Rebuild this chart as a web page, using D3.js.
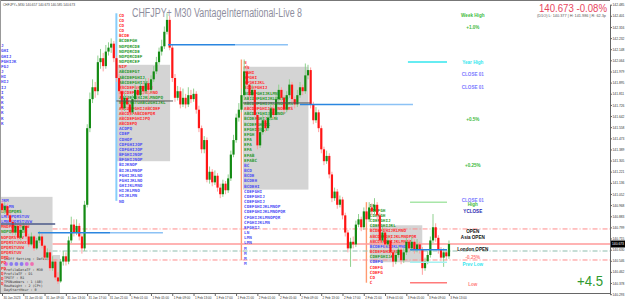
<!DOCTYPE html>
<html>
<head>
<meta charset="utf-8">
<script src="https://cdn.jsdelivr.net/npm/d3@7"></script>
<style>
body { margin: 0; background: #fff; }
svg { display: block; font-family: "Liberation Sans", Arial, sans-serif; }
.mono { font-family: "DejaVu Sans Mono", monospace; }
</style>
</head>
<body>
<div id="chart"></div>
<script>
// ---- data ----
var firstOpen = 140.98;
var closes = [
  140.93,140.96,140.89,140.84,140.76,140.81,140.72,140.78,140.81,140.73,
  140.67,140.73,140.64,140.70,140.73,140.66,140.57,140.61,140.49,140.54,
  140.42,140.39,140.54,140.58,140.54,140.70,140.82,140.76,140.81,140.73,
  140.64,140.97,141.55,141.77,141.86,141.83,142.05,142.08,142.02,142.13,
  142.16,142.19,142.08,141.93,141.83,141.70,141.78,141.73,141.67,141.77,
  141.84,141.80,141.87,141.83,141.89,141.84,141.92,141.98,142.05,142.13,
  142.17,142.28,142.37,142.16,141.93,141.78,141.83,141.73,141.78,141.73,
  141.80,141.77,141.81,141.69,141.55,141.39,141.46,141.16,141.22,141.14,
  141.19,141.10,141.05,141.13,141.08,141.17,141.35,141.46,141.63,141.69,
  141.80,141.98,141.88,141.80,141.84,141.65,141.42,141.52,141.61,141.55,
  141.63,141.70,141.65,141.77,141.84,141.78,141.69,141.80,141.88,141.77,
  141.73,141.80,141.86,141.83,141.95,141.99,141.73,141.61,141.67,141.55,
  141.39,141.30,141.34,141.20,141.02,141.07,140.97,141.01,140.89,140.76,
  140.64,140.69,140.67,140.82,140.86,140.80,140.92,140.86,140.95,140.92,
  140.97,140.89,140.70,140.76,140.67,140.70,140.61,140.54,140.59,140.63,
  140.55,140.61,140.69,140.64,140.69,140.63,140.67,140.63,140.49,140.54,
  140.59,140.70,140.80,140.72,140.63,140.57,140.61,140.58,140.673
];
var highs = [
  141.00,140.99,140.98,140.91,140.86,140.83,140.83,140.80,140.84,140.82,
  140.75,140.76,140.74,140.72,140.77,140.75,140.67,140.64,140.63,140.58,
  140.56,140.46,140.56,140.62,140.61,140.73,140.88,140.86,140.86,140.83,
  140.75,141.00,141.58,141.82,141.92,141.90,142.10,142.15,142.12,142.18,
  142.20,142.23,142.21,142.10,141.96,141.86,141.82,141.80,141.76,141.80,
  141.88,141.87,141.90,141.90,141.93,141.93,141.95,142.02,142.09,142.16,
  142.22,142.32,142.42,142.40,142.18,141.96,141.87,141.86,141.85,141.81,
  141.86,141.84,141.85,141.83,141.72,141.57,141.49,141.48,141.26,141.24,
  141.23,141.21,141.13,141.16,141.15,141.20,141.38,141.50,141.66,141.74,
  141.85,142.07,142.03,141.90,141.88,141.86,141.67,141.56,141.65,141.64,
  141.67,141.74,141.73,141.80,141.88,141.86,141.80,141.83,141.92,141.90,
  141.79,141.84,141.90,141.88,142.04,142.03,142.01,141.75,141.71,141.69,
  141.57,141.41,141.38,141.36,141.22,141.10,141.09,141.04,141.03,140.91,
  140.78,140.72,140.73,140.85,140.90,140.88,140.95,140.94,140.99,140.98,
  141.02,140.99,140.91,140.80,140.78,140.74,140.72,140.63,140.62,140.66,
  140.65,140.64,140.72,140.71,140.73,140.71,140.71,140.69,140.65,140.57,
  140.62,140.73,140.90,140.83,140.74,140.65,140.64,140.63,140.70
];
var lows = [
  140.91,140.90,140.87,140.82,140.74,140.74,140.70,140.70,140.76,140.71,
  140.65,140.66,140.62,140.63,140.68,140.64,140.55,140.55,140.47,140.47,
  140.40,140.37,140.38,140.51,140.51,140.52,140.68,140.73,140.74,140.70,
  140.60,140.62,140.95,141.52,141.74,141.78,141.80,142.00,141.98,142.00,
  142.10,142.12,142.05,141.90,141.78,141.67,141.68,141.70,141.64,141.65,
  141.75,141.76,141.78,141.80,141.81,141.75,141.82,141.90,141.96,142.03,
  142.10,142.15,142.26,142.14,141.90,141.75,141.76,141.70,141.71,141.70,
  141.71,141.74,141.75,141.66,141.52,141.36,141.36,141.14,141.13,141.11,
  141.12,141.07,141.02,141.03,141.05,141.06,141.15,141.33,141.44,141.60,
  141.67,141.78,141.85,141.76,141.77,141.62,141.39,141.40,141.50,141.52,
  141.53,141.61,141.62,141.63,141.75,141.75,141.66,141.67,141.78,141.74,
  141.70,141.71,141.78,141.80,141.81,141.92,141.70,141.58,141.59,141.52,
  141.36,141.27,141.28,141.17,140.99,141.00,140.94,140.95,140.86,140.73,
  140.61,140.50,140.64,140.65,140.80,140.77,140.78,140.83,140.84,140.89,
  140.90,140.86,140.67,140.68,140.64,140.65,140.58,140.50,140.52,140.57,
  140.52,140.53,140.59,140.61,140.62,140.60,140.61,140.60,140.44,140.47,
  140.52,140.57,140.68,140.69,140.60,140.54,140.50,140.55,140.56
];

var timeLabels = ["30 Jan 2023","31 Jan 05:00","31 Jan 09:00","31 Jan 13:00","31 Jan 17:00",
  "31 Jan 21:00","1 Feb 01:00","1 Feb 05:00","1 Feb 09:00","1 Feb 13:00","1 Feb 17:00",
  "1 Feb 21:00","2 Feb 01:00","2 Feb 05:00","2 Feb 09:00","2 Feb 13:00","2 Feb 17:00",
  "2 Feb 21:00","3 Feb 01:00","3 Feb 05:00","3 Feb 09:00","3 Feb 13:00"];
var barsPerTimeLabel = 8;

var priceLabels = ["142.485","142.401","142.316","142.232","142.148","142.064","141.979",
  "141.895","141.811","141.726","141.642","141.558","141.473","141.389","141.305","141.221",
  "141.136","141.052","140.968","140.883","140.799","140.715","140.630","140.546","140.462",
  "140.378","140.293"];

// TPO profiles: top price, first bar, rows of letters (r/g/b = period group)
var rowStep = 0.03915;
var profileTops = [142.174, 142.407, 142.051, 140.968];
var profileBars = [-0.4, 44, 91, 138.3];
var profile0 = [["J","b"],["GHI","b"],["GHIJ","b"],["FGHIJK","b"],["FGJ","b"],["J","b"],["HI","b"],
  ["HIJ","b"],["IJ","b"],["I","b"],["K","b"],["K","b"],["K","b"],["K","b"],["K","b"],["K","b"],
  ["",""],["",""],["",""],["",""],["",""],["",""],["",""],["",""],["",""],["",""],["",""],["",""],
  ["",""],["",""],["JKM","b"],["JKLMN","b"],["LMNOPQRS","g"],["LMNOPQRSTUV","b"],
  ["LMNOPQRSTUVW","b"],["MNOPQRSTUVW","r"],["NOPQRSTUVW","g"],["NOPQRSTUV","r"],
  ["OPQRSTUVWX","r"],["OPQRSTUVW","r"],["OPQRSTUV","r"],["OPQ","r"],["PQ","r"],["PQ","r"],
  ["Q","r"],["Q","r"],["Q","r"]];
var profile1 = [["CD","r"],["CD","r"],["CD","r"],["CD","r"],["BCDE","r"],["BCDEFGH","g"],
  ["NOPQRCDE","g"],["NOPQRCDE","g"],["NOPQRCDEF","g"],["NOPQRCEF","g"],["NIP","r"],
  ["ABCDEFGT","g"],["ABCDEFGHIJ","g"],["ABCDEFGHIJKL","g"],["ABCDEFGHIJKLM","r"],
  ["ABCDEFGHIJKLMNO","r"],["ABCDEFGHIJKLMNOPQ","g"],["NOPQRSTUABCDGHIJKL","g"],
  ["ABCDEFGHIJABCDEF","r"],["ABCDEFABCDEPQR","r"],["ABCDEFGHIJPQ","r"],["ABCDEPQ","r"],
  ["ACDPQ","b"],["CDEP","b"],["CDHOP","b"],["CDFGHIJOP","b"],["CDFGHIJOP","b"],
  ["BFGHIJNOP","b"],["BFGHIJNOP","b"],["BIJKNOP","b"],["BIJKLMNOP","b"],["FGHIJKLNO","b"],
  ["FGHIJKLNO","b"],["GHIJKLMNO","b"],["HIJKLMNO","b"],["HIJKLMN","b"],["NO","b"]];
var profile2 = [["N","r"],["MN","r"],["FGHI","r"],["EFGHI","r"],["EFGHIJKL","r"],["BCDEFGHIJ","r"],
  ["BCDEFGHIJKLMN","g"],["ABCDEFGHIJKLMNOPQ","g"],["ABCDEFGHIJKLMNOPQRST","g"],
  ["ABCDEFGHIJKLMNOPQRS","r"],["ABCDEFGHIJKLMNOP","g"],["BCDEFGHIJKLMN","g"],["BCDEFGHIJK","g"],
  ["EFGHIJKLA","g"],["EFGH","g"],["EFA","g"],["EFA","g"],["EFA","g"],["EFAB","g"],["EFABC","g"],
  ["BC","b"],["BCD","b"],["BCDE","b"],["BCDEH","b"],["BCDEHI","b"],["CDEFGHI","b"],["CDEFGHIJ","b"],
  ["CDEFGHIJ","b"],["CDEFGHIJKLMNOP","b"],["CDEFGHIJKLMNOPQR","b"],["CFGHIJKLMNOPQR","b"],
  ["CFGHIJKLMN","b"],["EFGHIJ","b"],["LN","b"],["LMN","b"],["LMN","b"],["M","b"],["M","b"],
  ["M","b"],["M","b"]];
var profile3 = [["DE","g"],["CDEFGH","g"],["CDEFGH","g"],["CDEFGHIJ","g"],["CDEFGHIJKL","g"],
  ["BCDEFGHIJKLMNO","r"],["ABCDEFGHIJKLMNOPQR","r"],["ABCDEFGHIJKLMNOP","r"],
  ["BCDEFGHIJKLMNO","b"],["BCDEFGHIJKLM","r"],["CDEFGHIJK","g"],["CDEFG","b"],["CDEFG","r"],
  ["CDEFG","r"],["CD","r"],["C","r"]];
var profiles = [profile0, profile1, profile2, profile3];

// value areas: [from bar, to bar, high, low]
var valueAreas = [[-1, 19, 141.03, 140.57], [43.2, 63.2, 142.03, 141.30],
  [90.6, 115.2, 142.015, 141.085], [138.3, 158, 140.815, 140.535]];
// session start markers: [bar, high, low]
var sessionMarks = [[43, 142.42, 141.00], [90, 142.07, 140.55], [137, 140.99, 140.38]];

// full width levels: [price, kind]
var levels = [[140.787, "pink"], [140.673, "bid"], [140.62, "teal"], [140.552, "pink"]];
// short segments: [from bar, to bar, price, kind]
var segments = [
  [62.4, 87.6, 142.182, "blue"], [87.6, 107.5, 142.182, "lightblue"],
  [112, 134.6, 141.73, "blue"], [134.6, 154.5, 141.73, "lightblue"],
  [43, 64.3, 141.756, "poc"], [90.6, 116, 141.741, "poc"],
  [-1, 20, 140.824, "slate"], [13.5, 40.6, 140.758, "blue"], [40.6, 60.5, 140.758, "lightblue"],
  [152.6, 167.3, 142.051, "cyan"], [153.4, 167.3, 140.989, "lightgreen"],
  [153.4, 167.3, 140.63, "blue"], [153.4, 167.3, 140.534, "palecyan"],
  [153.4, 167.3, 140.38, "red"]];

// level captions on the right side
var captions = [["Week High", 142.407, "green"], ["+1.0%", 142.316, "green"],
  ["Year High", 142.051, "cyan"], ["CLOSE 01", 141.960, "lavender"], ["CLOSE 01", 141.862, "lavender"],
  ["+0.5%", 141.62, "green"], ["+0.25%", 141.271, "green"], ["CLOSE 01", 141.006, "lavender"],
  ["High", 140.976, "green"], ["YCLOSE", 140.923, "navy"], ["OPEN", 140.772, "black"],
  ["Asia OPEN", 140.726, "black"], ["London OPEN", 140.635, "black"], ["-0.25%", 140.575, "red"],
  ["Prev Low", 140.521, "cyan"], ["Low", 140.37, "red"]];
var captionBar = 177;

var panelLines = ["OnOff Setting : Default", "ProfileDataTF : M30", "ProfileTF     : D1",
  "TPOTF         : R1", "TPONumbers    : 1 (AB)", "RowHeight     : 2 (CPt)", "DayStartHour  : 0"];
var panelDots = ["#d070e0", "#8a7cf0", "#8a7cf0", "#8a7cf0", "#d070e0", "#f070b0"];

// ---- styles ----
var letterColor = {r: "#ff3030", g: "#2f9a2f", b: "#4f4ff5"};
var kindColor = {pink: "#ff8a8a", bid: "#ff9a9a", teal: "#8dbdad", blue: "#2a86e0",
  lightblue: "#8cc2f5", poc: "#555", slate: "#4c5a88", cyan: "#33e6ee", lightgreen: "#a8e6a8",
  palecyan: "#a6f2f2", red: "#ff7a7a", green: "#3dbb3d", lavender: "#7b7bff", navy: "#1f1fb0",
  black: "#111"};

var width = 625, height = 301, plotRight = 610, plotBottom = 293;

var x = d3.scaleLinear().domain([0, 228.8]).range([2, 610.6]);
var y = d3.scaleLinear().domain([142.485, 140.293]).range([4.7, 294.2]);

var svg = d3.select("#chart").append("svg")
    .attr("width", width)
    .attr("height", height);

svg.append("rect").attr("width", width).attr("height", height).attr("fill", "#fff");

svg.append("defs").append("clipPath").attr("id", "plotclip")
  .append("rect").attr("x", 0).attr("y", 0).attr("width", plotRight).attr("height", plotBottom);

var plot = svg.append("g").attr("clip-path", "url(#plotclip)");

// grey value areas
plot.selectAll(".va").data(valueAreas).enter().append("rect")
    .attr("x", function(d) { return x(d[0]); })
    .attr("y", function(d) { return y(d[2]); })
    .attr("width", function(d) { return x(d[1]) - x(d[0]); })
    .attr("height", function(d) { return y(d[3]) - y(d[2]); })
    .attr("fill", "#d4d4d4");

// info panel (bottom left)
var panel = plot.append("g").attr("class", "mono");
panel.append("rect").attr("x", 0).attr("y", 255).attr("width", 60).attr("height", 38).attr("fill", "#d4d4d4");
panel.selectAll("circle").data(panelDots).enter().append("circle")
    .attr("cx", function(d, i) { return 6 + i * 5.2; })
    .attr("cy", 264)
    .attr("r", 1.9)
    .attr("fill", function(d) { return d; });
panel.selectAll("text").data(panelLines).enter().append("text")
    .attr("x", 4)
    .attr("y", function(d, i) { return i === 0 ? 259.5 : 270.5 + (i - 1) * 4.1; })
    .style("font-size", "3.4px")
    .attr("fill", "#333")
    .text(function(d) { return d; });

// session start markers
plot.selectAll(".sm").data(sessionMarks).enter().append("line")
    .attr("x1", function(d) { return x(d[0]); })
    .attr("x2", function(d) { return x(d[0]); })
    .attr("y1", function(d) { return y(d[1]); })
    .attr("y2", function(d) { return y(d[2]); })
    .attr("stroke", function(d, i) { return i === 0 ? "#87cefa" : "#ff9a70"; })
    .attr("stroke-width", function(d, i) { return i === 0 ? 2 : 1.4; });

// full width level lines
plot.selectAll(".lvl").data(levels).enter().append("line")
    .attr("x1", x(19)).attr("x2", plotRight)
    .attr("y1", function(d) { return y(d[0]); })
    .attr("y2", function(d) { return y(d[0]); })
    .attr("stroke", function(d) { return kindColor[d[1]]; })
    .attr("stroke-width", function(d) { return d[1] === "bid" ? 1.3 : 1; })
    .attr("stroke-dasharray", function(d) { return d[1] === "bid" ? null : "5,2,1,2"; });

// TPO letters
profiles.forEach(function(rows, p) {
  plot.append("g").attr("class", "mono")
    .selectAll("text").data(rows).enter().append("text")
      .attr("x", x(profileBars[p]))
      .attr("y", function(d, i) { return y(profileTops[p] - i * rowStep); })
      .attr("dy", "0.35em")
      .attr("fill", function(d) { return letterColor[d[1]] || "#000"; })
      .style("font-size", "4.3px")
      .style("font-weight", "bold")
      .text(function(d) { return d[0]; });
});

// candles
var bars = closes.map(function(c, i) {
  return {i: i, o: i === 0 ? firstOpen : closes[i - 1], c: c, h: highs[i], l: lows[i]};
});
var candle = plot.selectAll(".candle").data(bars).enter().append("g");
candle.append("line")
    .attr("x1", function(d) { return x(d.i) + 0.1; })
    .attr("x2", function(d) { return x(d.i) + 0.1; })
    .attr("y1", function(d) { return y(d.h); })
    .attr("y2", function(d) { return y(d.l); })
    .attr("stroke", function(d) { return d.c >= d.o ? "#8fd08f" : "#ffa0a0"; })
    .attr("stroke-width", 1);
candle.append("rect")
    .attr("x", function(d) { return x(d.i) - 1; })
    .attr("y", function(d) { return y(Math.max(d.o, d.c)); })
    .attr("width", 2.2)
    .attr("height", function(d) { return Math.max(1, Math.abs(y(d.o) - y(d.c))); })
    .attr("fill", function(d) { return d.c >= d.o ? "#138a13" : "#ff1515"; });

// short segments
plot.selectAll(".seg").data(segments).enter().append("line")
    .attr("x1", function(d) { return x(d[0]); })
    .attr("x2", function(d) { return x(d[1]); })
    .attr("y1", function(d) { return y(d[2]); })
    .attr("y2", function(d) { return y(d[2]); })
    .attr("stroke", function(d) { return kindColor[d[3]]; })
    .attr("stroke-width", function(d) { return d[3] === "poc" ? 1 : 1.5; });

// captions
plot.selectAll(".cap").data(captions).enter().append("text")
    .attr("x", x(captionBar))
    .attr("y", function(d) { return y(d[1]); })
    .attr("dy", "0.35em")
    .attr("text-anchor", "middle")
    .attr("fill", function(d) { return kindColor[d[2]]; })
    .style("font-size", "4.6px")
    .style("font-weight", "bold")
    .text(function(d) { return d[0]; });

// frame
svg.append("line").attr("x1", 0).attr("x2", plotRight).attr("y1", 0.5).attr("y2", 0.5).attr("stroke", "#777");
svg.append("line").attr("x1", 0.5).attr("x2", 0.5).attr("y1", 0).attr("y2", plotBottom).attr("stroke", "#999");

// price axis
var yAxis = svg.append("g")
    .attr("transform", "translate(" + plotRight + ",0)")
    .call(d3.axisRight(y)
      .tickValues(priceLabels.map(Number))
      .tickFormat(function(d, i) { return priceLabels[i]; })
      .tickSize(2).tickPadding(0.5).tickSizeOuter(0));
yAxis.select(".domain").attr("stroke", "#666");
yAxis.selectAll(".tick line").attr("stroke", "#666");
yAxis.selectAll("text").style("font-size", "3.3px").attr("fill", "#333")
    .style("font-family", "Liberation Sans, Arial");

// time axis
var xAxis = svg.append("g")
    .attr("transform", "translate(0," + plotBottom + ")")
    .call(d3.axisBottom(x)
      .tickValues(timeLabels.map(function(d, i) { return i * barsPerTimeLabel; }))
      .tickFormat(function(d, i) { return timeLabels[i]; })
      .tickSize(3).tickPadding(1).tickSizeOuter(0));
xAxis.select(".domain").attr("d", "M0,0.5H" + plotRight).attr("stroke", "#666");
xAxis.selectAll(".tick line").attr("stroke", "#666");
xAxis.selectAll("text").attr("text-anchor", "start").attr("dx", "0.3em")
    .style("font-size", "3.1px").attr("fill", "#333").style("font-family", "Liberation Sans, Arial");

// current price tag
var last = closes[closes.length - 1];
svg.append("rect").attr("x", plotRight + 1).attr("y", y(last) - 3.5).attr("width", 14).attr("height", 7).attr("fill", "#000");
svg.append("text").attr("x", plotRight + 2).attr("y", y(last)).attr("dy", "0.35em")
    .attr("fill", "#fff").style("font-size", "3.3px").text(last.toFixed(3));

// header texts
svg.append("text").attr("x", 3).attr("y", 5.5).attr("fill", "#444")
    .style("font-size", "4px").attr("textLength", 72).attr("lengthAdjust", "spacingAndGlyphs")
    .text("CHFJPY+,M30  140.657 140.673 140.585 140.673");
svg.append("text").attr("x", 132).attr("y", 16.5).attr("fill", "#8e8e9e")
    .style("font-size", "12.5px").attr("textLength", 170).attr("lengthAdjust", "spacingAndGlyphs")
    .text("CHFJPY+ M30 VantageInternational-Live 8");
svg.append("text").attr("x", 539).attr("y", 11.5).attr("fill", "#e84660")
    .style("font-size", "10px").attr("textLength", 68).attr("lengthAdjust", "spacingAndGlyphs")
    .text("140.673  -0.08%");
svg.append("text").attr("x", 537).attr("y", 17).attr("fill", "#555")
    .style("font-size", "4.2px").attr("textLength", 69).attr("lengthAdjust", "spacingAndGlyphs")
    .text("(D1O) L: 140.377 | H: 141.986 | R: 62.3p");
svg.append("text").attr("x", 577).attr("y", 286).attr("fill", "#2e9a2e")
    .style("font-size", "15px").attr("textLength", 26).attr("lengthAdjust", "spacingAndGlyphs")
    .text("+4.5");
</script>
</body>
</html>
